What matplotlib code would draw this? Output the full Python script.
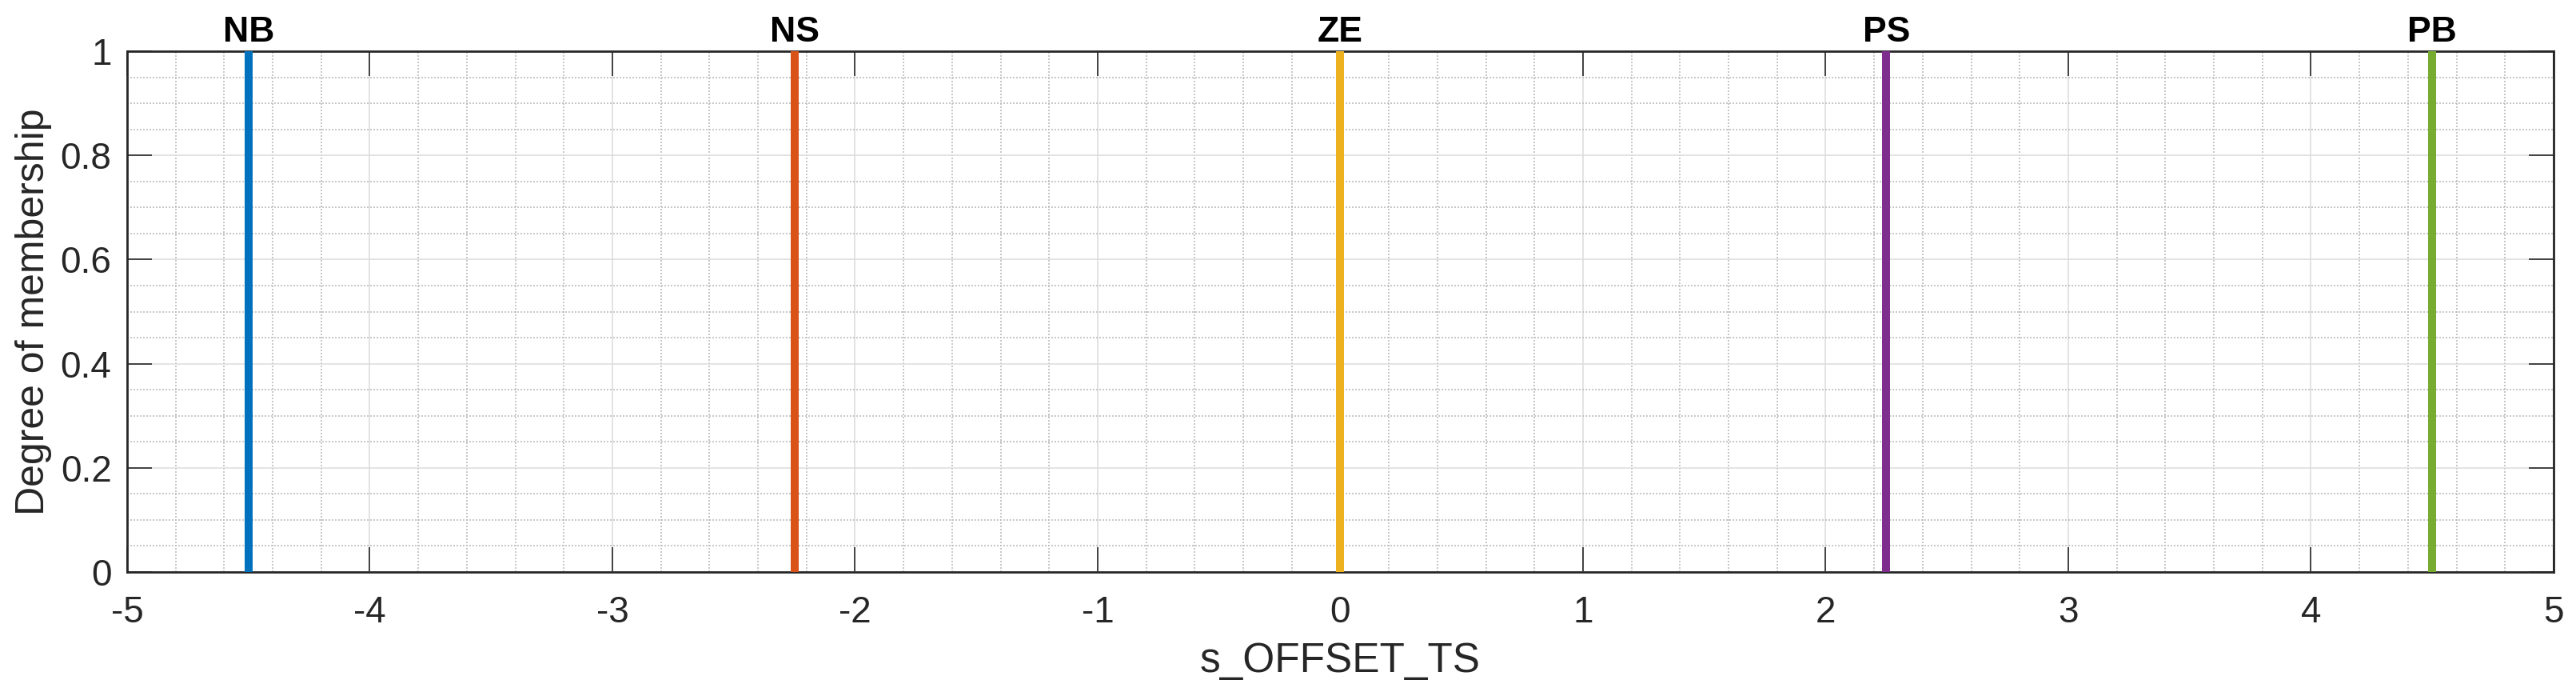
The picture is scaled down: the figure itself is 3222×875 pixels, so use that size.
import numpy as np
import matplotlib.pyplot as plt

# singleton membership functions
names = ['NB', 'NS', 'ZE', 'PS', 'PB']
centers = [-4.5, -2.25, 0.0, 2.25, 4.5]
heights = [1.0, 1.0, 1.0, 1.0, 1.0]
colors = ['#0072BD', '#D95319', '#EDB120', '#7E2F8E', '#77AC30']

plt.rcParams['font.family'] = ['Liberation Sans', 'DejaVu Sans']

fig = plt.figure(figsize=(32.22, 8.75), dpi=100)
ax = fig.add_axes([159 / 3222, 1 - 715 / 875, (3194 - 159) / 3222, (715 - 64) / 875])

for name, c, h, col in zip(names, centers, heights, colors):
    ax.plot([c, c], [0, h], color=col, linewidth=7.2, solid_capstyle='butt', zorder=3)
    ax.annotate(name, xy=(c, h), xytext=(0, 2), textcoords='offset points',
                ha='center', va='bottom', fontsize=32, fontweight='bold',
                annotation_clip=False)

ax.set_xlim(-5, 5)
ax.set_ylim(0, 1)
ax.set_xticks(np.arange(-5, 6, 1))
ax.set_yticks(np.arange(0, 1.01, 0.2))
ax.set_xticklabels(['-5', '-4', '-3', '-2', '-1', '0', '1', '2', '3', '4', '5'])
ax.set_yticklabels(['0', '0.2', '0.4', '0.6', '0.8', '1'])
ax.set_xticks(np.arange(-5, 5.01, 0.2), minor=True)
ax.set_yticks(np.arange(0, 1.001, 0.05), minor=True)

ax.grid(True, which='major', color='#dedede', linewidth=1.2, linestyle='-', zorder=0)
ax.grid(True, which='minor', color='#bdbdbd', linewidth=1.2, linestyle=(0, (1.2, 1.2)), zorder=0)
ax.set_axisbelow(True)

ax.tick_params(which='major', direction='in', length=22, width=1.2, top=True, right=True,
               labelsize=33, colors='#262626')
ax.tick_params(axis='x', which='major', pad=21)
ax.tick_params(axis='y', which='major', pad=14)
ax.tick_params(which='minor', length=0, top=True, right=True)
for s in ax.spines.values():
    s.set_linewidth(2.0)
    s.set_color('#262626')

ax.set_xlabel('s_OFFSET_TS', fontsize=37, color='#262626', labelpad=10)
ax.set_ylabel('Degree of membership', fontsize=36, color='#262626', labelpad=8)

fig.savefig('out.png', dpi=100)
